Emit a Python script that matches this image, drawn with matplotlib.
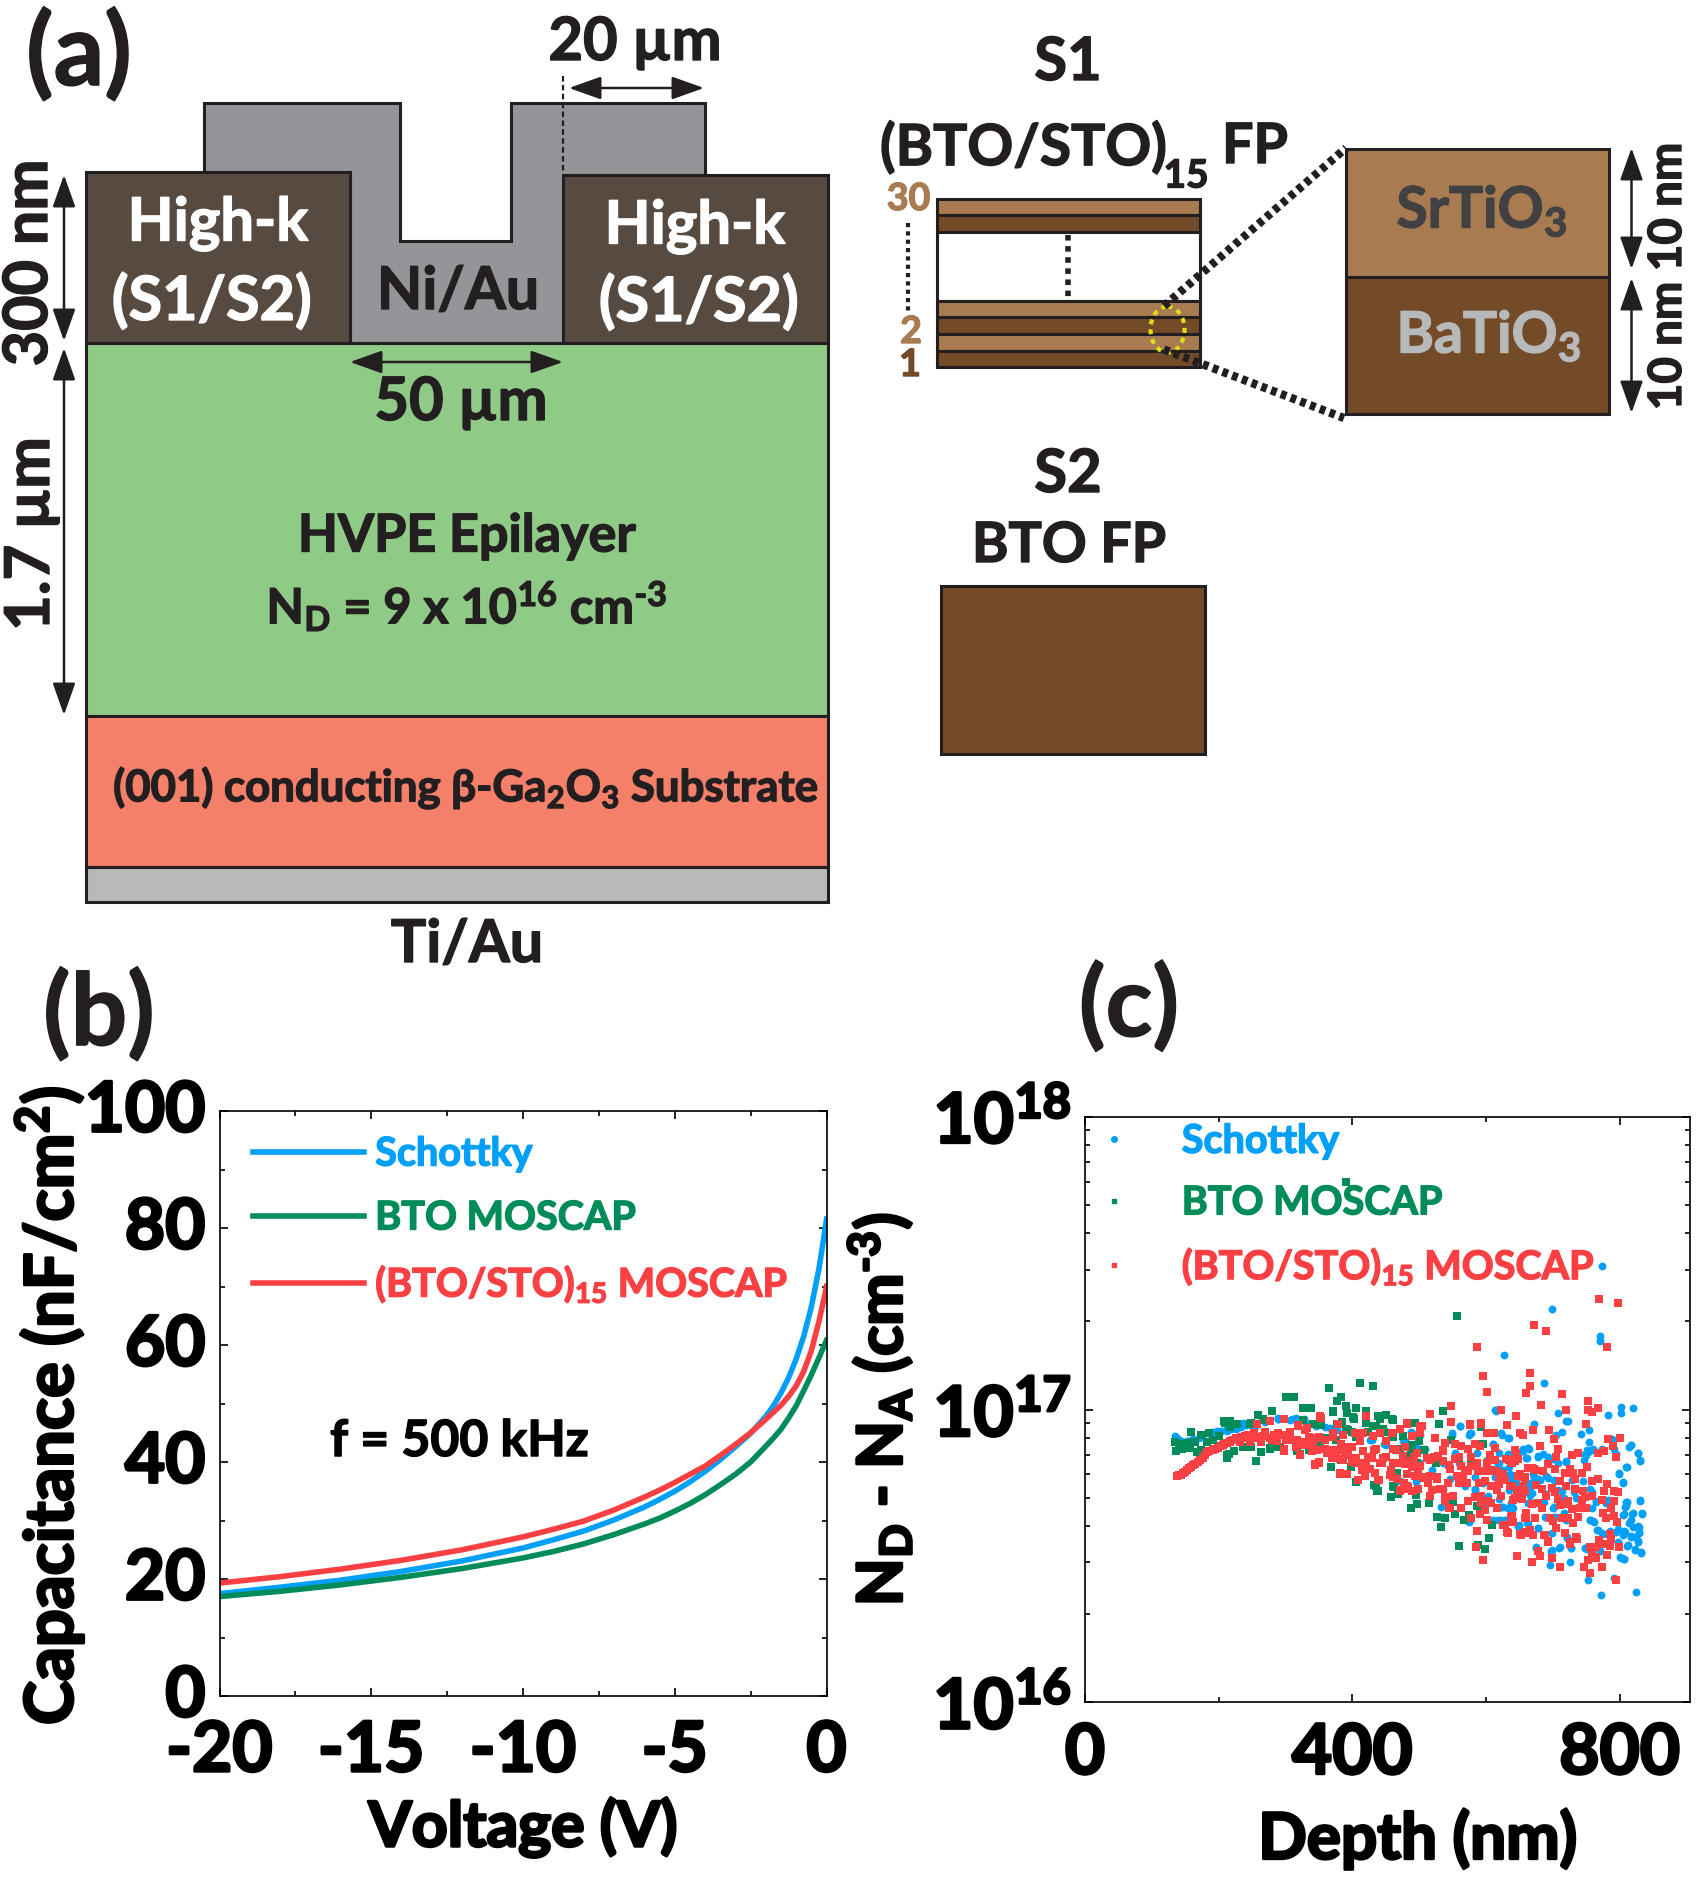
import numpy as np
import matplotlib
matplotlib.use("Agg")
import matplotlib.pyplot as plt
from matplotlib.patches import Rectangle, Polygon, Ellipse
from matplotlib.lines import Line2D
from matplotlib.text import Text
from matplotlib.transforms import ScaledTranslation
from matplotlib.patheffects import withStroke
from matplotlib.ticker import MultipleLocator, FixedLocator, NullFormatter

plt.rcParams["font.family"] = ["Lato", "DejaVu Sans"]
plt.rcParams["font.weight"] = "bold"
plt.rcParams["axes.labelweight"] = "bold"
plt.rcParams["axes.unicode_minus"] = False
plt.rcParams["mathtext.default"] = "regular"

# panel (b), C-V curves
voltage = [-20, -18, -16, -14, -12, -10, -9, -8, -7, -6, -5.5, -5, -4.5, -4, -3.5, -3, -2.5, -2, -1.75, -1.5, -1.25, -1, -0.75, -0.5, -0.25, -0.1, 0]
cap_schottky = [17.5, 18.6, 19.8, 21.3, 23.1, 25.3, 26.7, 28.2, 30.1, 32.3, 33.6, 35, 36.6, 38.4, 40.4, 42.6, 44.9, 47.8, 49.6, 51.8, 54.4, 57.6, 61.5, 66.5, 73, 78, 81.5]
cap_bto = [17, 17.9, 19, 20.3, 21.8, 23.6, 24.7, 26, 27.6, 29.4, 30.4, 31.6, 32.9, 34.4, 36.1, 37.9, 40, 42.7, 44.1, 45.6, 47.5, 49.6, 52.2, 54.9, 57.8, 59.6, 60.8]
cap_sl = [19.3, 20.4, 21.7, 23.2, 25, 27.2, 28.5, 29.9, 31.8, 34, 35.2, 36.5, 37.9, 39.3, 41.1, 43, 45, 47.3, 48.5, 49.7, 51.2, 53, 55.5, 59, 64, 67.5, 70]

# panel (c), depth in nm and N_D - N_A in 1e16 cm^-3
depth_schottky = [773, 698, 770, 770, 627, 687, 614, 802, 820, 802, 708, 782, 723, 720, 288, 561, 672, 754, 714, 578,
                  575, 549, 624, 705, 742, 634, 789, 754, 610, 817, 814, 664, 655, 759, 773, 792, 827, 830, 752, 749,
                  678, 693, 661, 746, 720, 811, 799, 805, 634, 619, 601, 672, 681, 693, 729, 745, 640, 646, 661, 666,
                  717, 731, 758, 764, 811, 830, 808, 759, 702, 687, 665, 625, 637, 610, 622, 649, 661, 678, 702, 720,
                  755, 761, 805, 818, 833, 814, 820, 829, 767, 774, 785, 794, 808, 829, 817, 827, 811, 823, 832, 802,
                  807, 721, 675, 697, 709, 727, 748, 770, 696, 725, 753, 791, 772, 824, 575,
                  134, 140, 149, 158, 170, 185, 197, 211, 226, 241, 256, 270, 288, 306, 315, 324, 335, 359, 377, 406,
                  430, 448, 465, 483, 501, 519, 495, 533, 536, 554, 560, 584, 596, 613, 625, 637, 666, 690, 708, 743,
                  779, 584, 560, 525, 501, 465, 672, 702, 655, 634, 601, 590,
                  655, 663, 678, 685, 698, 708, 720, 748, 751, 760, 774, 794, 816, 827, 830, 810, 799, 805, 830, 810,
                  809, 833, 820, 807, 816, 827, 829, 827, 812, 822, 832, 801, 807, 690, 670, 678, 638, 645, 665, 713,
                  735, 755, 765, 782, 668, 640, 665, 700, 688, 703, 717, 755, 760, 785, 766, 775, 797, 807, 805, 817,
                  824, 797, 648, 678, 699, 721, 675, 698, 710, 727, 748, 751, 770,
                  615, 561, 576, 549, 623, 633, 620, 633, 653, 659, 663, 610, 618, 639, 645, 643, 633, 623, 663, 576,
                  618, 628, 648, 663, 471, 496, 508, 526, 546, 568, 583, 603, 620, 476, 488, 501, 486, 536, 586, 601,
                  635, 655, 212, 224, 237, 252, 267, 289, 309, 327, 346, 366, 394, 426, 451, 466, 479, 489,
                  137, 143, 152, 162, 175, 190, 203, 218, 233, 248]
n_schottky = [31, 22, 17.8, 17.2, 15.3, 12.3, 10, 10.2, 10.1, 9.74, 9.7, 9.56, 9.15, 9.12, 9.3, 8.8, 8.9, 8.5, 8.4, 8.33,
              8.17, 8.2, 8.2, 8.17, 8.26, 7.96, 7.9, 7.75, 7.6, 7.55, 7.42, 7.32, 7.2, 7.27, 7.27, 7.32, 7.08, 6.68, 7.17, 6.98,
              6.9, 6.86, 6.8, 6.7, 6.6, 6.34, 6.04, 5.61, 6.37, 6.54, 6.72, 5.89, 5.74, 5.82, 5.74, 5.69, 5.59, 5.3, 5.24, 5.1,
              4.97, 5.24, 5.24, 4.84, 4.84, 4.88, 4.65, 4.59, 4.65, 4.84, 4.84, 4.65, 4.78, 4.19, 4.19, 4.03, 4.08, 3.93, 4.3, 4.19,
              4.19, 4.13, 4.36, 4.38, 4.4, 4.08, 3.98, 3.98, 3.87, 3.77, 3.68, 3.82, 3.82, 3.77, 3.68, 3.53, 3.41, 3.31, 3.24, 3.1,
              3.08, 3.67, 3.36, 3.29, 3.36, 3.36, 3.36, 3.27, 2.94, 3, 2.62, 2.66, 2.33, 2.38, 4.14,
              8.1, 7.85, 7.75, 7.85, 7.96, 8.28, 8.44, 8.5, 8.6, 8.84, 8.84, 9.07, 9.3, 9.2, 9.35, 9.2, 8.95, 8.72, 8.5, 8.3,
              7.85, 7.65, 7.27, 7.46, 7.27, 6.2, 5.66, 4.65, 5.3, 7.08, 5.59, 5.3, 5.59, 5.89, 6.2, 5.74, 5.44, 5.16, 5.3, 4.9,
              4.78, 5.89, 6.54, 6.9, 6.54, 6.54, 4.78, 5.74, 5.89, 5.3, 4.78, 5.04,
              7.3, 7.4, 6.93, 7.05, 6.75, 6.55, 6.67, 7.05, 7.25, 7.3, 7.3, 7.05, 7.55, 7.12, 6.7, 6.36, 6.08, 5.65, 4.89, 4.82,
              4.67, 4.42, 4.42, 4.38, 4.2, 4, 3.8, 3.55, 3.44, 3.33, 3.25, 3.12, 3.09, 5.92, 6, 5.77, 5.9, 5.48, 5.62, 5.26,
              5, 5.33, 4.87, 4.92, 5.2, 4.61, 4.8, 4.61, 4.3, 4.3, 4.44, 4.2, 4.16, 3.84, 3.87, 3.74, 3.9, 3.84, 3.72, 3.67,
              3.67, 3.51, 4, 3.94, 3.78, 3.65, 3.4, 3.3, 3.4, 3.37, 3.37, 3.33, 3.28,
              9.9, 8.8, 8.3, 8.3, 8.3, 8, 7.1, 7.05, 7.2, 6.85, 7.4, 7.6, 6.5, 5.9, 5.62, 5.4, 4.62, 4.65, 4.8, 4.18,
              4.2, 4.2, 4, 4.06, 5.7, 7.4, 7.3, 6.85, 5.77, 5.47, 5.33, 5.06, 4.93, 7.8, 8.4, 8.15, 6.75, 6.58, 7.1, 6.66,
              6, 5.47, 8.45, 8.78, 9, 8.78, 9.25, 9.35, 9.25, 9.25, 8.78, 8.66, 8.55, 7.88, 7.58, 7.3, 7.78, 8.33,
              8, 7.8, 7.8, 7.9, 8.1, 8.35, 8.45, 8.55, 8.7, 8.85]

depth_bto = [390, 557, 412, 431, 365, 300, 312, 383, 377, 391, 405, 326, 338, 279, 371, 392, 421, 535, 259, 439,
             451, 460, 403, 442, 421, 494, 208, 216, 228, 247, 267, 431, 530, 593, 159, 173, 185, 201, 217, 134,
             136, 140, 147, 152, 145, 157, 164, 167, 173, 182, 191, 212, 216, 238, 248, 256, 264, 276, 288, 297,
             321, 335, 347, 359, 394, 406, 368, 383, 398, 405, 433, 437, 462, 457, 468, 488, 496, 495, 514, 527,
             532, 539, 551, 554, 560, 567, 575, 587, 588, 599, 604, 609, 560, 578, 607, 596, 548, 525, 507, 489,
             460, 448, 424, 400, 377, 353, 341, 326,
             209, 217, 227, 249, 267, 212, 223, 237, 247, 264, 277, 292, 317, 351, 389, 436, 439, 461, 376, 391,
             401, 421, 371, 384, 436, 446, 459, 494, 476, 499, 471, 488, 496, 466]
n_bto = [60, 20.8, 12.3, 12, 11.8, 11, 11, 11, 10.7, 10.3, 10.1, 10.1, 10.15, 9.9, 9.8, 9.75, 9.8, 9.9, 9.6, 9.5,
         9.6, 9.2, 9.3, 9.27, 9, 9, 9.1, 9.15, 8.9, 8.95, 9.2, 8.8, 8.9, 8.7, 8.4, 8.2, 8.3, 8.1, 8.7, 7.75,
         7.2, 7.65, 7.55, 7.7, 7.35, 7.4, 7.75, 7.17, 7.27, 7.75, 7.85, 6.85, 7.05, 7.46, 7.46, 6.68, 7.17, 7.32, 7.46, 7.27,
         7.04, 7.27, 7.75, 7.96, 8.5, 8.06, 6.34, 6.72, 6.37, 5.66, 5.52, 5.28, 5.44, 5.03, 5.16, 4.62, 4.75, 5.1, 4.8, 4.3,
         3.98, 4.27, 4.84, 4.39, 3.41, 4.19, 4.36, 4.67, 3.44, 3.33, 3.63, 4.03, 6.75, 6.54, 6.72, 7.65, 7.85, 6.54, 7.27, 7.55,
         8.06, 8.4, 8.4, 8.4, 8.95, 8.84, 8.95, 9.2,
         9, 9.13, 8.9, 9, 9.25, 7, 7.2, 7.47, 7.47, 7.15, 7.38, 7.47, 7.2, 7.38, 6, 5.48, 5.27, 5.48, 7.88, 8.55,
         9.4, 9.85, 9.85, 9.05, 8.78, 8.55, 9.25, 9, 8.1, 7.78, 7.3, 7.1, 6.58, 6.08]

depth_sl = [769, 797, 672, 690, 586, 781, 665, 595, 665, 660, 602, 713, 753, 768, 548, 682, 623, 753, 759, 720,
            516, 645, 421, 353, 749, 481, 548, 504, 576, 593, 670, 694, 632, 650, 800, 783, 701, 604, 612,
            137, 143, 149, 155, 161, 169, 176, 182, 191, 199, 208, 217, 226, 235, 244, 253, 261, 270, 279, 288,
            297, 306, 312, 318, 324, 329, 335, 341, 350, 359, 365, 371, 344, 350, 321, 297, 381, 392, 371, 377,
            383, 389, 400, 406, 409, 415, 424, 433, 439, 445, 451, 457, 465, 471, 477, 471, 483, 492, 498, 507,
            516, 519, 527, 536, 545, 539, 545, 563, 560, 569, 578, 584, 587, 590, 587, 585, 595, 578, 593, 599,
            607, 616, 616, 625, 631, 634, 643, 646, 646, 652, 658, 663, 669, 678, 681, 687, 693, 699, 711, 726,
            764, 755, 764, 758, 773, 746, 755, 795, 637, 672, 655, 628,
            640, 607, 601, 560, 543, 522, 513, 489, 460, 442, 418, 400, 386, 362, 347, 332, 315, 300,
            282, 264, 247, 232, 584, 572, 619, 613,
            207, 217, 227, 237, 247, 257, 267, 277, 287, 297, 307, 317, 327, 337, 346, 257, 277, 297, 319, 332,
            351, 379, 297, 322, 339, 344, 350, 359, 369, 376, 381, 389, 394, 399, 406, 411, 416, 421, 429, 436,
            441, 451, 461, 471, 481, 479, 489, 496, 381, 409, 419, 434, 440, 456, 466, 471, 481, 489, 498, 496,
            479, 461, 446, 426, 404, 386, 371, 416, 431, 459, 421, 501,
            476, 483, 491, 501, 511, 521, 528, 536, 481, 493, 506, 516, 526, 536, 546, 553, 563, 573, 578, 588,
            566, 556, 596, 606, 616, 625, 598, 608, 620, 635, 648, 658, 663, 630, 643, 593, 603, 616, 546, 563,
            578, 591, 601, 623, 643, 658, 653, 660, 628, 633, 587, 538, 551, 573, 531, 516, 491, 478, 655, 613,
            606, 591, 573, 563, 553, 538, 523, 501, 481, 576, 592, 610, 602, 536,
            645, 648, 638, 668, 673, 685, 693, 703, 718, 725, 730, 743, 751, 650, 658, 710, 733, 758, 768, 781,
            638, 655, 675, 720, 698, 733, 745, 777, 791, 797, 758, 748, 643, 653, 683, 690, 703, 708, 723, 743,
            774, 792, 787, 668, 678, 684, 710, 718, 728, 740, 749, 638, 660, 673, 658, 695, 700, 713, 723, 730,
            738, 775, 780, 792, 796, 640, 665, 658, 650, 670, 688, 693, 705, 718, 725, 734, 736, 769, 785, 787,
            799, 785, 777, 753, 765, 781, 768, 777, 794, 738, 728, 704, 708, 680, 790,
            140, 146, 152, 158, 164, 172, 179, 186, 195, 203, 212, 221, 230, 240, 249]
n_sl = [23.9, 23.2, 19.4, 18.5, 16.4, 16.3, 13.3, 13, 12, 11.4, 11.5, 11.3, 10.7, 10.1, 10.3, 10.4, 10, 10, 9.8, 9.95,
        9.66, 9.5, 9.5, 9.37, 8.95, 8.9, 9.07, 8.8, 8.9, 9, 8.5, 8.53, 8.84, 8.3, 8, 7.92, 7.9, 8.3, 8.3,
        5.94, 5.97, 6.13, 6.3, 6.45, 6.6, 6.8, 7.17, 7.27, 7.36, 7.65, 7.75, 7.96, 8.06, 8.17, 8.28, 8.06, 8.4, 7.85, 8.28,
        7.27, 8.4, 7.85, 8.84, 7.75, 8.5, 8.06, 7.55, 8.06, 7.85, 7.27, 8.06, 6.45, 6.58, 7, 7.22, 6.04, 6, 6.9, 7.27,
        7.65, 7.08, 7.46, 6.54, 5.73, 6.2, 6.9, 7.27, 5.73, 6.54, 6.9, 6.2, 7.27, 6.54, 5.59, 5.28, 5.44, 6.9, 6.2, 5.89,
        6.72, 5.3, 5.89, 7.27, 6.45, 5.03, 4.59, 4.59, 5.59, 6.2, 6.9, 7.6, 6.54, 5.59, 3.84, 3.4, 3.06, 4.27, 4.78, 4.53,
        6.2, 5.3, 4.6, 4.03, 3.82, 6.72, 7.27, 5.3, 3.16, 3.73, 4.26, 3.79, 3, 3.27, 3.16, 3.73, 3.53, 3.1, 2.9, 3.48,
        3.4, 3.4, 3.1, 3.18, 2.9, 2.9, 2.77, 2.61, 4.3, 6.28, 5.89, 5.74,
        4.9, 4.78, 6.54, 6.9, 5.59, 6.9, 5.59, 6.37, 5.89, 6.54, 6.54, 6.72, 6.72, 7.08, 7.27, 7.6, 7.45, 7.85,
        8.17, 7.75, 7.75, 7.75, 5.03, 5.59, 5.89, 6.72,
        7.58, 7.78, 7.88, 8, 8.1, 8, 8.1, 8, 7.78, 8.2, 7.88, 7.88, 7.58, 7.78, 8, 8.9, 9.13, 9.25, 8.78, 8.66,
        9.5, 8.9, 7.3, 7, 7.2, 6.5, 6.6, 7.3, 6.83, 7.2, 6.75, 7.47, 7, 6.6, 6.83, 7.78, 7.2, 6.4, 6.83, 7.3,
        8.33, 7.78, 7.3, 8.55, 9, 7.47, 8.1, 7.1, 6.08, 5.73, 5.92, 6.08, 5.73, 5.95, 5.77, 5.3, 5.48, 5.27, 5.33, 5.92,
        6.5, 6.58, 6.83, 6.25, 8.33, 8.2, 8.33, 8.33, 8.1, 8.33, 9.5, 8.78,
        6.95, 6.66, 6.58, 6.41, 6.85, 6.85, 6.95, 6.66, 6, 5.93, 5.85, 5.93, 5.77, 5.33, 6.25, 6.75, 6.41, 6.17, 6.41, 6.17,
        5.85, 5.93, 6.17, 6.17, 6.17, 6, 5.7, 5.47, 5.55, 5.47, 5.93, 5.85, 6.33, 6.75, 6.66, 5.06, 4.86, 4.62, 4.62, 4.62,
        4.26, 4.38, 4.2, 5.06, 5, 5.27, 4.93, 4.26, 4.03, 3.79, 3.85, 4.86, 5.06, 4.86, 5.33, 5.06, 5.27, 5.33, 8.15, 7.4,
        7, 7.5, 7.3, 7.5, 7.6, 7.7, 8, 8.32, 8.9, 8.85, 8.95, 8.32, 8.32, 7.2,
        7.12, 6.75, 6.58, 6.32, 6.2, 6.16, 6.5, 6.24, 6.08, 6.24, 6.08, 6.08, 6.36, 6, 5.88, 5.69, 5.77, 5.69, 5.77, 5.55,
        5.48, 5.48, 5.5, 5.48, 5.4, 5.33, 5.26, 5.26, 5.26, 5.22, 5.06, 5.03, 5, 5.13, 5.33, 5.06, 5.24, 4.95, 4.87, 4.89,
        4.9, 4.87, 4.61, 4.77, 4.8, 4.61, 4.72, 4.74, 4.56, 4.61, 4.61, 4.34, 4.44, 4.27, 4.27, 4.24, 4.16, 4.24, 4.27, 4.1,
        4.3, 4.44, 4.27, 4.34, 4.12, 4.12, 3.87, 3.82, 3.74, 3.72, 3.72, 3.55, 3.94, 3.78, 3.51, 3.67, 3.62, 3.57, 3.74, 3.62,
        3.4, 3.41, 3.46, 3.05, 3.12, 3.18, 7.1, 7.2, 6.9, 7.1, 7, 6.9, 7.3, 7.5, 7.5,
        5.95, 6.05, 6.2, 6.38, 6.52, 6.7, 6.98, 7.2, 7.3, 7.5, 7.7, 7.85, 8, 8.1, 8.2]

blue = "#00a0f8"
green = "#008c58"
red = "#fb4044"
ink = "#231f20"
sto_col = "#a87b50"
bto_col = "#744b28"
highk_col = "#574a41"
metal_col = "#939598"

fig = plt.figure(figsize=(17, 18.77), dpi=100)

# schematic panel, drawn in pixel coordinates of the figure
ax_s = fig.add_axes([0, 0, 1, 1])
ax_s.set_xlim(0, 1700)
ax_s.set_ylim(1877, 0)
ax_s.axis("off")


def box(x0, y0, x1, y1, col, lw=2.2, ec=ink):
    ax_s.add_patch(Rectangle((x0, y0), x1 - x0, y1 - y0, facecolor=col, edgecolor=ec, linewidth=lw))


def label(x, y, s, size=36, col=ink, rot=0, ha="center"):
    ax_s.text(x, y, s, fontsize=size, color=col, rotation=rot, ha=ha, va="center", rotation_mode="anchor")


def arrow(x0, y0, x1, y1):
    ax_s.annotate("", xy=(x1, y1), xytext=(x0, y0),
                  arrowprops=dict(arrowstyle="<|-|>,head_length=0.9,head_width=0.32", color=ink, lw=1.8,
                                  shrinkA=0, shrinkB=0, mutation_scale=22))


ax_s.add_patch(Polygon([(204, 172), (204, 103), (400, 103), (400, 241), (511, 241), (511, 103), (705, 103),
                        (705, 175), (563, 175), (563, 343), (350, 343), (350, 172)],
                       facecolor=metal_col, edgecolor=ink, linewidth=2.2))
box(86, 172, 350, 343, highk_col)
box(563, 175, 828, 343, highk_col)
box(86, 343, 828, 716, "#8fca86")
box(86, 716, 828, 867, "#f4806a")
box(86, 867, 828, 902, "#b8b9bb")
ax_s.plot([562.6, 562.6], [76, 173], color=ink, lw=1.6, ls=(0, (2.5, 1.5)))

label(79, 55, "(a)", 72)
label(635, 43, "20 µm", 43)
arrow(569, 88, 704, 88)
label(218, 224, "High-k", 43, "white")
label(212, 301, "(S1/S2)", 44, "white")
label(695, 227, "High-k", 43, "white")
label(699, 302, "(S1/S2)", 44, "white")
label(458, 292, "Ni/Au", 42.5)
label(461, 403, "50 µm", 43)
arrow(350, 362, 563, 362)
label(467, 537, "HVPE Epilayer", 37.5)
label(467, 606, "N$_D$ = 9 x 10$^{16}$ cm$^{\u20103}$", 35)
label(466, 788, "(001) conducting β-Ga$_2$O$_3$ Substrate", 31.5)
label(467, 945, "Ti/Au", 42.5)
label(29, 263, "300 nm", 44, rot=90)
label(31, 534, "1.7 µm", 44.5, rot=90)
arrow(64, 175, 64, 341)
arrow(64, 348, 64, 715)

# layer stack S1 and zoomed bilayer
label(1068, 63, "S1", 43)
label(880, 148, "(BTO/STO)", 41, ha="left")
label(1186, 176, "15", 28)
label(1255, 147, "FP", 40)
box(937, 199, 1200, 215, sto_col)
box(937, 215, 1200, 232, bto_col)
box(937, 232, 1200, 301, "white")
box(937, 301, 1200, 317, sto_col)
box(937, 317, 1200, 334, bto_col)
box(937, 334, 1200, 350.5, sto_col)
box(937, 350.5, 1200, 367, bto_col)
ax_s.plot([1068, 1068], [235, 300], color=ink, lw=4, ls=(0, (1, 1)))
ax_s.plot([908.5, 908.5], [223, 311], color=ink, lw=3, ls=(0, (1, 1)))
label(908.5, 199, "30", 27, sto_col)
label(911, 332, "2", 27, sto_col)
label(910, 365, "1", 27, bto_col)
ax_s.add_patch(Ellipse((1167.5, 329.5), 34, 46, fill=False, edgecolor="#dede16", lw=3, ls=(0, (1.2, 1.2))))
ax_s.plot([1164, 1346], [306, 148], color=ink, lw=6, ls=(0, (0.7, 0.55)))
ax_s.plot([1164, 1344], [349.5, 418], color=ink, lw=6, ls=(0, (0.7, 0.55)))
box(1346, 148.5, 1609, 277, sto_col)
box(1346, 277, 1609, 414, bto_col)
label(1482, 211, "SrTiO$_3$", 41, "#414042")
label(1489, 336, "BaTiO$_3$", 41, "#b8b9bb")
arrow(1631.5, 148, 1631.5, 269)
arrow(1631.5, 278, 1631.5, 413)
label(1668, 207, "10 nm", 33, rot=90)
label(1668, 346, "10 nm", 33, rot=90)

label(1068, 475, "S2", 43)
label(1069, 546, "BTO FP", 40)
box(941, 586, 1205.5, 754, bto_col)

label(99, 1015, "(b)", 72)
label(1129, 1006, "(c)", 70)

# panel (b)
ax_b = fig.add_axes([219.5 / 1700, 1 - 1696 / 1877, 607 / 1700, 585 / 1877])
ax_b.plot(voltage, cap_schottky, color=blue, lw=4, label="Schottky")
ax_b.plot(voltage, cap_bto, color=green, lw=4, label="BTO MOSCAP")
ax_b.plot(voltage, cap_sl, color=red, lw=4, label="(BTO/STO)$_{15}$ MOSCAP")
ax_b.set_xlim(-20, 0)
ax_b.set_ylim(0, 100)
ax_b.xaxis.set_major_locator(MultipleLocator(5))
ax_b.xaxis.set_minor_locator(MultipleLocator(2.5))
ax_b.yaxis.set_major_locator(MultipleLocator(20))
ax_b.yaxis.set_minor_locator(MultipleLocator(10))
ax_b.set_xlabel("Voltage (V)", fontsize=45)
ax_b.xaxis.set_label_coords(0.5, -0.172)
ax_b.set_ylabel("Capacitance (nF/cm$^2$)", fontsize=48)
ax_b.yaxis.set_label_coords(-0.218, 0.496)
ax_b.legend(loc="upper left", bbox_to_anchor=(0.055, 0.958), frameon=False, fontsize=28.5, borderpad=0, borderaxespad=0,
            handlelength=2.8, handletextpad=0.29, labelspacing=0.68, labelcolor=[blue, green, red])
ax_b.text(-12.1, 43.5, "f = 500 kHz", fontsize=36, ha="center", va="center", color="black")

# panel (c)
ax_c = fig.add_axes([1085 / 1700, 1 - 1702 / 1877, 605 / 1700, 585 / 1877])
ax_c.set_yscale("log")
ax_c.scatter(depth_schottky, np.array(n_schottky) * 1e16, s=32, marker="o", color=blue, linewidths=0)
ax_c.scatter(depth_bto, np.array(n_bto) * 1e16, s=28, marker="s", color=green, linewidths=0)
ax_c.scatter(depth_sl, np.array(n_sl) * 1e16, s=28, marker="s", color=red, linewidths=0)
ax_c.set_xlim(0, 905)
ax_c.set_ylim(1e16, 1e18)
ax_c.xaxis.set_major_locator(FixedLocator([0, 400, 800]))
ax_c.xaxis.set_minor_locator(FixedLocator([200, 600]))
ax_c.yaxis.set_major_locator(FixedLocator([1e16, 1e17, 1e18]))
ax_c.yaxis.set_minor_locator(FixedLocator([m * 10 ** e for e in (16, 17) for m in range(2, 10)]))
ax_c.yaxis.set_minor_formatter(NullFormatter())
ax_c.set_yticklabels(["$10^{16}$", "$10^{17}$", "$10^{18}$"])
ax_c.set_xlabel("Depth (nm)", fontsize=46)
ax_c.xaxis.set_label_coords(0.55, -0.183)
ax_c.set_ylabel("N$_D$ - N$_A$ (cm$^{\u20103}$)", fontsize=45)
ax_c.yaxis.set_label_coords(-0.282, 0.50)
handles = [Line2D([], [], ls="", marker="o", ms=4, color=blue), Line2D([], [], ls="", marker="s", ms=3.5, color=green),
           Line2D([], [], ls="", marker="s", ms=3.5, color=red)]
ax_c.legend(handles, ["Schottky", "BTO MOSCAP", "(BTO/STO)$_{15}$ MOSCAP"], loc="upper left", bbox_to_anchor=(0.016, 0.99),
            frameon=False, fontsize=28.5, borderpad=0, borderaxespad=0, handlelength=1, handletextpad=1.2, labelspacing=0.62,
            labelcolor=[blue, green, red])

for ax, x_pad in ((ax_b, 17.5), (ax_c, 15)):
    ax.tick_params(which="both", direction="in", top=True, right=True, width=1.2, labelsize=50)
    ax.tick_params(axis="y", pad=10)
    ax.tick_params(axis="x", pad=x_pad)
    ax.tick_params(which="major", length=6)
    ax.tick_params(which="minor", length=3.5)
    for sp in ax.spines.values():
        sp.set_linewidth(1.2)

# the original type is heavier than Lato Bold
for t in fig.findobj(Text):
    t.set_path_effects([withStroke(linewidth=1.0, foreground=t.get_color())])
big = [ax_b.xaxis.label, ax_b.yaxis.label, ax_c.xaxis.label, ax_c.yaxis.label]
big += ax_b.get_xticklabels() + ax_b.get_yticklabels() + ax_c.get_xticklabels() + ax_c.get_yticklabels()
for lab in big:
    lab.set_path_effects([withStroke(linewidth=2.0, foreground="black")])
for lab in ax_b.get_yticklabels():
    lab.set_transform(lab.get_transform() + ScaledTranslation(0, 5 / 100, fig.dpi_scale_trans))

fig.savefig("out.png", dpi=100)
